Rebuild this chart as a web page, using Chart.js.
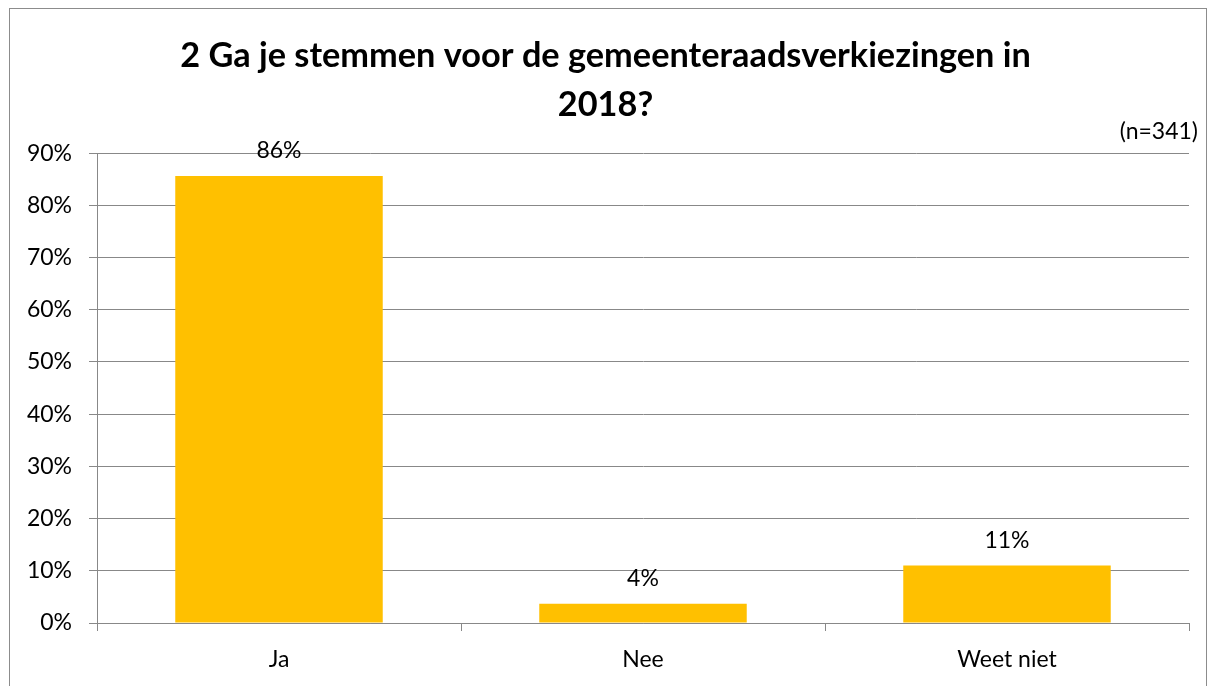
<!DOCTYPE html>
<html>
<head>
<meta charset="utf-8">
<script src="https://cdn.jsdelivr.net/npm/chart.js@4"></script>
<style>
    html, body { margin: 0; padding: 0; background: #fff; overflow: hidden; }
    canvas { display: block; }
</style>
</head>
<body>
<canvas id="stemChart" width="1215" height="686"></canvas>
<script>
const categories = ["Ja", "Nee", "Weet niet"];
const percentages = [85.6, 3.7, 11.0];
const dataLabels = ["86%", "4%", "11%"];
const yTicks = [0, 10, 20, 30, 40, 50, 60, 70, 80, 90];
const titleLines = ["2 Ga je stemmen voor de gemeenteraadsverkiezingen in", "2018?"];
const noteText = "(n=341)";

const fontFamily = "Lato, 'Open Sans', sans-serif";
const gridColor = "#888888";

// frame around the whole chart, the n= note and the labels above the bars
const extras = {
    id: "extras",
    beforeDraw(chart) {
        const c = chart.ctx;
        c.save();
        c.strokeStyle = "#8c8c8c";
        c.lineWidth = 1;
        c.strokeRect(9.5, 8.5, 1197, 700);
        c.restore();
    },
    afterDatasetsDraw(chart) {
        const c = chart.ctx;
        const meta = chart.getDatasetMeta(0);
        c.save();
        c.fillStyle = "#000";
        c.font = "23px " + fontFamily;
        c.textAlign = "center";
        c.textBaseline = "middle";
        meta.data.forEach(function (bar, i) {
            c.fillText(dataLabels[i], bar.x, bar.y - 25);
        });
        c.textAlign = "right";
        c.fillText(noteText, 1198, 132);
        c.restore();
    }
};

new Chart(document.getElementById("stemChart").getContext("2d"), {
    type: "bar",
    data: {
        labels: categories,
        datasets: [{
            data: percentages,
            backgroundColor: "#FFC000",
            borderWidth: 0,
            barPercentage: 0.57,
            categoryPercentage: 1.0
        }]
    },
    options: {
        responsive: false,
        animation: false,
        layout: { padding: { left: 0, right: 4, top: 0, bottom: 0 } },
        plugins: {
            legend: { display: false },
            tooltip: { enabled: false },
            title: {
                display: true,
                text: titleLines,
                color: "#000",
                font: { family: fontFamily, size: 34.3, weight: "bold", lineHeight: 1.43 },
                padding: { top: 31, bottom: 24 }
            }
        },
        scales: {
            y: {
                min: 0,
                max: 90,
                afterFit(scale) { scale.width = 97; },
                afterBuildTicks(scale) { scale.ticks = yTicks.map(v => ({ value: v })); },
                ticks: {
                    color: "#000",
                    padding: 17,
                    font: { family: fontFamily, size: 23 },
                    callback: v => v + "%"
                },
                grid: { color: gridColor, tickLength: 8, lineWidth: 1 },
                border: { color: gridColor }
            },
            // empty strip on the right so the title centres like the original
            spacer: {
                type: "linear",
                position: "right",
                afterFit(scale) { scale.width = 22; },
                ticks: { display: false },
                grid: { display: false },
                border: { display: false }
            },
            x: {
                offset: true,
                afterFit(scale) { scale.height = 63; },
                ticks: {
                    color: "#000",
                    padding: 15,
                    font: { family: fontFamily, size: 23 }
                },
                grid: { offset: true, drawOnChartArea: false, color: gridColor, tickLength: 8 },
                border: { color: gridColor }
            }
        }
    },
    plugins: [extras]
});
</script>
</body>
</html>
